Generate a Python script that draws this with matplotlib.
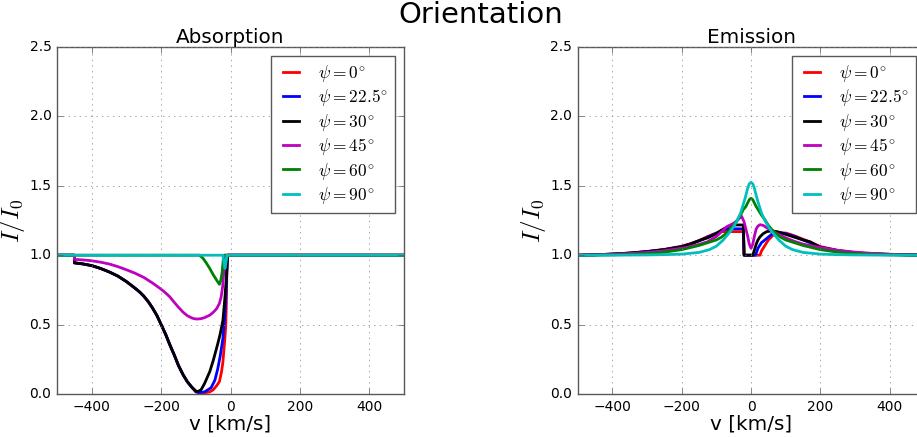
import numpy as np
import matplotlib
matplotlib.use('Agg')
import matplotlib.pyplot as plt

plt.style.use('classic')
plt.rcParams['figure.facecolor'] = 'white'
plt.rcParams['savefig.facecolor'] = 'white'
plt.rcParams['mathtext.fontset'] = 'cm'

labels = [r'$\psi = 0^{\!\circ}$', r'$\psi = 22.5^{\!\circ}$', r'$\psi = 30^{\!\circ}$',
          r'$\psi = 45^{\!\circ}$', r'$\psi = 60^{\!\circ}$', r'$\psi = 90^{\!\circ}$']
colors = ['r', 'b', 'k', 'm', 'g', 'c']

# ---- absorption profiles ----
wing_v = [-500, -450, -450, -425, -400, -375, -350, -325, -300, -275, -262, -250, -237, -225, -212,
          -200, -187, -175, -162, -150, -137, -125, -112]
wing_i = [1.0, 1.0, 0.945, 0.937, 0.925, 0.905, 0.88, 0.85, 0.81, 0.762, 0.735, 0.705, 0.665, 0.62, 0.565,
          0.50, 0.43, 0.355, 0.28, 0.205, 0.14, 0.09, 0.05]

abs_v_0 = wing_v + [-100, -90, -75, -60, -50, -40, -32, -26, -22, -17, -14, -12, -10, 500]
abs_i_0 = wing_i + [0.015, 0.008, 0.008, 0.015, 0.03, 0.06, 0.09, 0.16, 0.23, 0.38, 0.48, 0.65, 1.0, 1.0]

abs_v_22 = wing_v + [-100, -89, -75, -56, -45, -37, -30, -22, -16, -12, -9, 500]
abs_i_22 = wing_i + [0.017, 0.01, 0.015, 0.045, 0.10, 0.18, 0.27, 0.40, 0.58, 0.78, 1.0, 1.0]

abs_v_30 = wing_v + [-100, -94, -85, -75, -60, -50, -37, -30, -22, -16, -12, -8, 500]
abs_i_30 = wing_i + [0.022, 0.018, 0.03, 0.075, 0.16, 0.24, 0.36, 0.43, 0.53, 0.70, 0.84, 1.0, 1.0]

abs_v_45 = [-500, -450, -450, -425, -400, -375, -350, -325, -300, -275, -250, -225, -200, -187, -175,
            -162, -150, -137, -125, -112, -104, -95, -85, -75, -60, -50, -40, -32, -27, -23, -20, -18, -17, 500]
abs_i_45 = [1.0, 1.0, 0.97, 0.966, 0.96, 0.95, 0.937, 0.918, 0.895, 0.87, 0.84, 0.80, 0.755, 0.728, 0.70,
            0.66, 0.625, 0.59, 0.565, 0.548, 0.542, 0.54, 0.543, 0.55, 0.568, 0.588, 0.615, 0.653, 0.70, 0.77,
            0.86, 0.95, 1.0, 1.0]

abs_v_60 = [-500, -90, -80, -70, -60, -50, -40, -32, -28, -24, -20, 500]
abs_i_60 = [1.0, 1.0, 0.98, 0.945, 0.905, 0.86, 0.82, 0.79, 0.82, 0.88, 1.0, 1.0]

abs_v_90 = [-500, -22, -19, -16, -13, -10, 500]
abs_i_90 = [1.0, 1.0, 0.95, 0.905, 0.95, 1.0, 1.0]

# ---- emission profiles ----
em_v_0 = [-500, -450, -400, -350, -300, -250, -200, -175, -150, -125, -100, -90, -60, -22, -20,
          26, 30, 40, 50, 64, 84, 100, 113, 125, 150, 175, 200, 250, 300, 350, 400, 450, 500]
em_i_0 = [1.0, 1.003, 1.008, 1.016, 1.027, 1.042, 1.065, 1.083, 1.105, 1.135, 1.16, 1.17, 1.17, 1.17, 1.0,
          1.0, 1.03, 1.07, 1.11, 1.145, 1.16, 1.16, 1.15, 1.14, 1.115, 1.09, 1.062, 1.035, 1.018, 1.01,
          1.006, 1.003, 1.0]

em_v_22 = [-500, -450, -400, -350, -300, -250, -200, -175, -150, -125, -100, -89, -75, -56, -22, -20,
           13, 20, 30, 45, 64, 80, 100, 125, 150, 175, 200, 250, 300, 350, 400, 450, 500]
em_i_22 = [1.0, 1.003, 1.008, 1.015, 1.026, 1.04, 1.062, 1.08, 1.103, 1.13, 1.158, 1.172, 1.185, 1.19, 1.19, 1.0,
           1.0, 1.05, 1.09, 1.12, 1.16, 1.165, 1.155, 1.135, 1.11, 1.085, 1.058, 1.033, 1.017, 1.01,
           1.006, 1.003, 1.0]

em_v_30 = [-500, -450, -400, -350, -300, -250, -200, -175, -150, -125, -100, -89, -75, -56, -22, -20,
           5, 10, 15, 20, 26, 35, 45, 60, 75, 100, 125, 150, 170, 200, 250, 300, 350, 400, 450, 500]
em_i_30 = [1.0, 1.003, 1.008, 1.015, 1.025, 1.04, 1.06, 1.08, 1.105, 1.125, 1.155, 1.175, 1.195, 1.218, 1.218, 1.0,
           1.0, 1.04, 1.08, 1.11, 1.133, 1.155, 1.17, 1.175, 1.17, 1.15, 1.13, 1.11, 1.097, 1.055, 1.032,
           1.016, 1.009, 1.005, 1.002, 1.0]

em_v_45 = [-500, -450, -400, -350, -300, -250, -200, -175, -150, -125, -100, -80, -70, -50, -40, -30, -27,
           -20, -10, -5, 0, 5, 10, 15, 20, 26, 35, 50, 64, 80, 100, 125, 150, 170, 200, 250, 300, 350, 400, 450, 500]
em_i_45 = [1.0, 1.003, 1.007, 1.012, 1.02, 1.032, 1.05, 1.062, 1.078, 1.097, 1.135, 1.18, 1.205, 1.23, 1.25, 1.275, 1.28,
           1.24, 1.14, 1.08, 1.05, 1.08, 1.14, 1.19, 1.21, 1.22, 1.215, 1.19, 1.17, 1.15, 1.125, 1.10, 1.08, 1.07,
           1.055, 1.035, 1.022, 1.013, 1.007, 1.003, 1.0]

em_v_60 = [-500, -450, -400, -350, -300, -250, -200, -175, -150, -125, -100, -85, -70, -60, -50, -40, -30, -22,
           -15, -10, -5, 0, 5, 10, 15, 20, 30, 40, 50, 60, 70, 85, 100, 125, 150, 175, 200, 250, 300, 350, 400, 450, 500]
em_i_60 = [1.0, 1.001, 1.003, 1.006, 1.012, 1.022, 1.04, 1.055, 1.07, 1.09, 1.11, 1.13, 1.16, 1.185, 1.215, 1.25, 1.29, 1.33,
           1.35, 1.375, 1.40, 1.41, 1.40, 1.375, 1.35, 1.33, 1.29, 1.255, 1.215, 1.185, 1.16, 1.13, 1.11, 1.09, 1.07,
           1.055, 1.04, 1.022, 1.012, 1.006, 1.003, 1.001, 1.0]

em_v_90 = [-500, -400, -300, -250, -200, -150, -120, -100, -80, -70, -60, -50, -40, -30, -25, -20, -15, -10, -5,
           0, 5, 10, 15, 20, 25, 30, 40, 50, 60, 70, 80, 100, 120, 150, 200, 250, 300, 400, 500]
em_i_90 = [1.0, 1.0, 1.002, 1.004, 1.008, 1.02, 1.04, 1.065, 1.11, 1.14, 1.17, 1.205, 1.25, 1.305, 1.345, 1.385, 1.43, 1.48, 1.515,
           1.525, 1.515, 1.48, 1.43, 1.385, 1.345, 1.305, 1.25, 1.205, 1.17, 1.14, 1.11, 1.065, 1.04, 1.02, 1.008,
           1.004, 1.002, 1.0, 1.0]

absorption = [(abs_v_0, abs_i_0), (abs_v_22, abs_i_22), (abs_v_30, abs_i_30),
              (abs_v_45, abs_i_45), (abs_v_60, abs_i_60), (abs_v_90, abs_i_90)]
emission = [(em_v_0, em_i_0), (em_v_22, em_i_22), (em_v_30, em_i_30),
            (em_v_45, em_i_45), (em_v_60, em_i_60), (em_v_90, em_i_90)]

fig = plt.figure(figsize=(9.17, 4.37), dpi=100)
ax1 = fig.add_axes([0.0622, 0.0984, 0.3784, 0.794])
ax2 = fig.add_axes([0.6298, 0.0984, 0.3784, 0.794])

for ax, data, title in [(ax1, absorption, 'Absorption'), (ax2, emission, 'Emission')]:
    for (v, I), c, lab in zip(data, colors, labels):
        ax.plot(v, I, color=c, lw=2, label=lab)
    ax.set_xlim(-500, 500)
    ax.set_ylim(0, 2.5)
    ax.set_xticks([-400, -200, 0, 200, 400])
    ax.set_yticks([0, 0.5, 1.0, 1.5, 2.0, 2.5])
    ax.tick_params(labelsize=10, color='0.35')
    for s in ax.spines.values():
        s.set_edgecolor('0.35')
    ax.grid(True, color='0.5')
    ax.set_title(title, fontsize=14.4, pad=3)
    ax.set_xlabel('v [km/s]', fontsize=14.4, labelpad=1)
    ax.set_ylabel(r'$I/I_0$', fontsize=18)
    ax.yaxis.set_label_coords(-0.086, 0.5)
    leg = ax.legend(loc='upper right', fontsize=12.5, handlelength=1.5, labelspacing=0.2, frameon=True)
    leg.get_frame().set_edgecolor('0.35')

fig.suptitle('Orientation', x=481/917, y=0.966, va='center', fontsize=21)

fig.savefig('out.png', dpi=100)
